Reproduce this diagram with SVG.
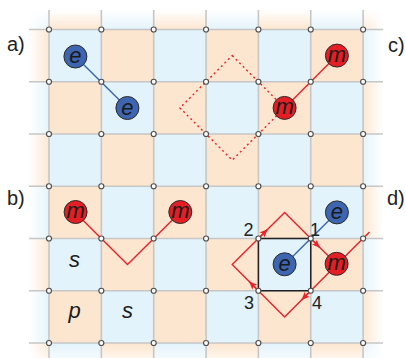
<svg xmlns="http://www.w3.org/2000/svg" width="406" height="358" viewBox="0 0 406 358">
<style>
.o{fill:#fde6cf}.b{fill:#e3f3fb}
.gl{stroke:#c6c6c6;stroke-width:1.6;fill:none}
.pt{fill:#fff;stroke:#505050;stroke-width:1.2}
.ec{fill:#3d65b0;stroke:#2b2b2b;stroke-width:1}
.mc{fill:#e31e24;stroke:#2b2b2b;stroke-width:1}
.pl{font-family:"Liberation Sans",Arial,sans-serif;font-style:italic;font-size:22px;fill:#1a1a1a;text-anchor:middle}
.lb{font-family:"Liberation Sans",Arial,sans-serif;font-size:20px;fill:#222}
.num{font-family:"Liberation Sans",Arial,sans-serif;font-size:18px;fill:#222}
.red{stroke:#e8212a;stroke-width:1.4;fill:none}
.blue{stroke:#3a64b5;stroke-width:1.4;fill:none}
</style>
<defs>
<linearGradient id="fl" x1="0" y1="0" x2="1" y2="0"><stop offset="0" stop-color="#fff" stop-opacity="1"/><stop offset="1" stop-color="#fff" stop-opacity="0"/></linearGradient>
<linearGradient id="fr" x1="0" y1="0" x2="1" y2="0"><stop offset="0" stop-color="#fff" stop-opacity="0"/><stop offset="1" stop-color="#fff" stop-opacity="1"/></linearGradient>
<linearGradient id="ft" x1="0" y1="0" x2="0" y2="1"><stop offset="0" stop-color="#fff" stop-opacity="1"/><stop offset="1" stop-color="#fff" stop-opacity="0"/></linearGradient>
<linearGradient id="fb" x1="0" y1="0" x2="0" y2="1"><stop offset="0" stop-color="#fff" stop-opacity="0"/><stop offset="1" stop-color="#fff" stop-opacity="0.6"/></linearGradient>
<clipPath id="cr"><rect x="29" y="10" width="354" height="348"/></clipPath>
<marker id="ah" markerUnits="userSpaceOnUse" markerWidth="10" markerHeight="8" refX="8" refY="3.5" orient="auto"><path d="M0,0 L8,3.5 L0,7 L2,3.5 z" fill="#e8212a"/></marker>
</defs>
<g id="board" clip-path="url(#cr)">
<rect x="0" y="0" width="406" height="358" class="b"/>
<g class="o">
<rect x="49" y="-22.75" width="52.35" height="52.25"/>
<rect x="153.7" y="-22.75" width="52.35" height="52.25"/>
<rect x="258.4" y="-22.75" width="52.35" height="52.25"/>
<rect x="363.1" y="-22.75" width="52.35" height="52.25"/>
<rect x="-3.35" y="29.5" width="52.35" height="52.25"/>
<rect x="101.35" y="29.5" width="52.35" height="52.25"/>
<rect x="206.05" y="29.5" width="52.35" height="52.25"/>
<rect x="310.75" y="29.5" width="52.35" height="52.25"/>
<rect x="49" y="81.75" width="52.35" height="52.25"/>
<rect x="153.7" y="81.75" width="52.35" height="52.25"/>
<rect x="258.4" y="81.75" width="52.35" height="52.25"/>
<rect x="363.1" y="81.75" width="52.35" height="52.25"/>
<rect x="-3.35" y="134" width="52.35" height="52.25"/>
<rect x="101.35" y="134" width="52.35" height="52.25"/>
<rect x="206.05" y="134" width="52.35" height="52.25"/>
<rect x="310.75" y="134" width="52.35" height="52.25"/>
<rect x="49" y="186.25" width="52.35" height="52.25"/>
<rect x="153.7" y="186.25" width="52.35" height="52.25"/>
<rect x="258.4" y="186.25" width="52.35" height="52.25"/>
<rect x="363.1" y="186.25" width="52.35" height="52.25"/>
<rect x="-3.35" y="238.5" width="52.35" height="52.25"/>
<rect x="101.35" y="238.5" width="52.35" height="52.25"/>
<rect x="206.05" y="238.5" width="52.35" height="52.25"/>
<rect x="310.75" y="238.5" width="52.35" height="52.25"/>
<rect x="49" y="290.75" width="52.35" height="52.25"/>
<rect x="153.7" y="290.75" width="52.35" height="52.25"/>
<rect x="258.4" y="290.75" width="52.35" height="52.25"/>
<rect x="363.1" y="290.75" width="52.35" height="52.25"/>
<rect x="-3.35" y="343" width="52.35" height="52.25"/>
<rect x="101.35" y="343" width="52.35" height="52.25"/>
<rect x="206.05" y="343" width="52.35" height="52.25"/>
<rect x="310.75" y="343" width="52.35" height="52.25"/>
</g>
<rect x="29" y="10" width="22" height="348" fill="url(#fl)"/>
<rect x="361" y="10" width="22" height="348" fill="url(#fr)"/>
<rect x="29" y="10" width="354" height="20" fill="url(#ft)"/>
<rect x="29" y="343" width="354" height="15" fill="url(#fb)"/>
</g>
<g id="grid" class="gl">
<path d="M49,10V358M101.35,10V358M153.7,10V358M206.05,10V358M258.4,10V358M310.75,10V358M363.1,10V358"/>
<path d="M29,29.5H383M29,81.75H383M29,134H383M29,186.25H383M29,238.5H383M29,290.75H383M29,343H383"/>
</g>
<g id="connectors">
<line class="blue" x1="75.4" y1="56.5" x2="127.4" y2="108"/>
<line class="red" x1="336.9" y1="55.6" x2="284.6" y2="107.9"/>
<polygon class="red" points="232.2,55.6 284.6,107.9 232.2,160.1 179.9,107.9" stroke-dasharray="2 3" stroke-width="1.5"/>
<polyline class="red" points="75.2,212.4 127.5,264.6 179.9,212.4"/>
<path d="M258.4,238.5H310.75V290.75H258.4Z" fill="none" stroke="#222" stroke-width="1.5"/>
<polygon class="red" points="284.6,212.4 336.9,264.6 284.6,316.9 232.2,264.6"/>
<line class="red" x1="336.9" y1="264.6" x2="369.5" y2="232"/>
<line class="blue" x1="284.6" y1="264.6" x2="336.9" y2="212.4"/>
<line class="red" x1="258.4" y1="238.5" x2="267.6" y2="229.3" marker-end="url(#ah)"/>
<line class="red" x1="310.75" y1="238.5" x2="319.95" y2="247.7" marker-end="url(#ah)"/>
<line class="red" x1="310.75" y1="290.75" x2="301.55" y2="299.95" marker-end="url(#ah)"/>
<line class="red" x1="258.4" y1="290.75" x2="249.2" y2="281.55" marker-end="url(#ah)"/>
</g>
<g id="points" class="pt">
<circle cx="49" cy="29.5" r="2.5"/><circle cx="101.35" cy="29.5" r="2.5"/><circle cx="153.7" cy="29.5" r="2.5"/><circle cx="206.05" cy="29.5" r="2.5"/><circle cx="258.4" cy="29.5" r="2.5"/><circle cx="310.75" cy="29.5" r="2.5"/><circle cx="363.1" cy="29.5" r="2.5"/>
<circle cx="49" cy="81.75" r="2.5"/><circle cx="101.35" cy="81.75" r="2.5"/><circle cx="153.7" cy="81.75" r="2.5"/><circle cx="206.05" cy="81.75" r="2.5"/><circle cx="258.4" cy="81.75" r="2.5"/><circle cx="310.75" cy="81.75" r="2.5"/><circle cx="363.1" cy="81.75" r="2.5"/>
<circle cx="49" cy="134" r="2.5"/><circle cx="101.35" cy="134" r="2.5"/><circle cx="153.7" cy="134" r="2.5"/><circle cx="206.05" cy="134" r="2.5"/><circle cx="258.4" cy="134" r="2.5"/><circle cx="310.75" cy="134" r="2.5"/><circle cx="363.1" cy="134" r="2.5"/>
<circle cx="49" cy="186.25" r="2.5"/><circle cx="101.35" cy="186.25" r="2.5"/><circle cx="153.7" cy="186.25" r="2.5"/><circle cx="206.05" cy="186.25" r="2.5"/><circle cx="258.4" cy="186.25" r="2.5"/><circle cx="310.75" cy="186.25" r="2.5"/><circle cx="363.1" cy="186.25" r="2.5"/>
<circle cx="49" cy="238.5" r="2.5"/><circle cx="101.35" cy="238.5" r="2.5"/><circle cx="153.7" cy="238.5" r="2.5"/><circle cx="206.05" cy="238.5" r="2.5"/><circle cx="258.4" cy="238.5" r="2.5"/><circle cx="310.75" cy="238.5" r="2.5"/><circle cx="363.1" cy="238.5" r="2.5"/>
<circle cx="49" cy="290.75" r="2.5"/><circle cx="101.35" cy="290.75" r="2.5"/><circle cx="153.7" cy="290.75" r="2.5"/><circle cx="206.05" cy="290.75" r="2.5"/><circle cx="258.4" cy="290.75" r="2.5"/><circle cx="310.75" cy="290.75" r="2.5"/><circle cx="363.1" cy="290.75" r="2.5"/>
<circle cx="49" cy="343" r="2.5"/><circle cx="101.35" cy="343" r="2.5"/><circle cx="153.7" cy="343" r="2.5"/><circle cx="206.05" cy="343" r="2.5"/><circle cx="258.4" cy="343" r="2.5"/><circle cx="310.75" cy="343" r="2.5"/><circle cx="363.1" cy="343" r="2.5"/>
</g>
<g id="a-e1"><circle class="ec" cx="75.4" cy="56.5" r="11.5"/><text class="pl" x="75.4" y="63">e</text></g>
<g id="a-e2"><circle class="ec" cx="127.4" cy="108" r="11.5"/><text class="pl" x="127.4" y="114.5">e</text></g>
<g id="c-m1"><circle class="mc" cx="336.9" cy="55.6" r="11.5"/><text class="pl" x="336.9" y="62">m</text></g>
<g id="c-m2"><circle class="mc" cx="284.6" cy="107.9" r="11.5"/><text class="pl" x="284.6" y="114.3">m</text></g>
<g id="b-m1"><circle class="mc" cx="75.6" cy="212" r="11.5"/><text class="pl" x="75.6" y="218.4">m</text></g>
<g id="b-m2"><circle class="mc" cx="180.3" cy="212" r="11.5"/><text class="pl" x="180.3" y="218.4">m</text></g>
<g id="d-e1"><circle class="ec" cx="284.6" cy="264.3" r="11.5"/><text class="pl" x="284.6" y="270.8">e</text></g>
<g id="d-e2"><circle class="ec" cx="336.9" cy="212.4" r="11.5"/><text class="pl" x="336.9" y="218.9">e</text></g>
<g id="d-m"><circle class="mc" cx="336.6" cy="263.8" r="11.5"/><text class="pl" x="336.6" y="270.2">m</text></g>
<g id="labels">
<text class="lb" x="7" y="51">a)</text>
<text class="lb" x="7" y="205">b)</text>
<text class="lb" x="388" y="52">c)</text>
<text class="lb" x="387" y="205">d)</text>
<text class="pl" x="74.5" y="267.3">s</text>
<text class="pl" x="74.5" y="318">p</text>
<text class="pl" x="127.5" y="318">s</text>
<text class="num" x="243.5" y="236">2</text>
<text class="num" x="310" y="236">1</text>
<text class="num" x="244" y="308.5">3</text>
<text class="num" x="312" y="308.5">4</text>
</g>
</svg>
